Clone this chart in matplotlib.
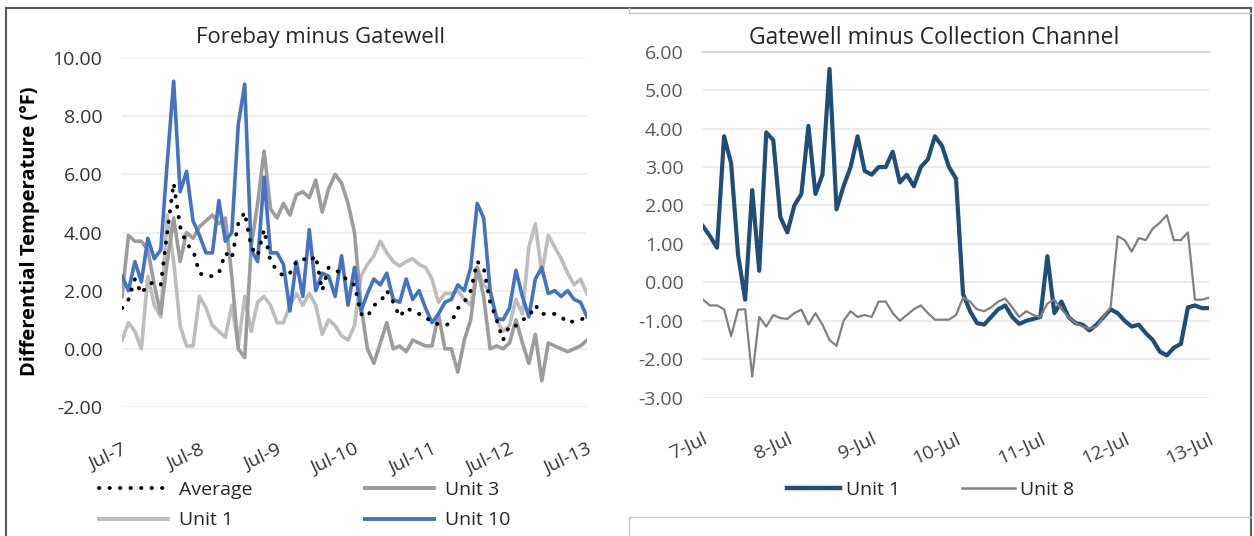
import numpy as np
import matplotlib
matplotlib.use("Agg")
import matplotlib.pyplot as plt
from matplotlib.lines import Line2D

plt.rcParams['font.family'] = ['Open Sans', 'DejaVu Sans']

# ---------------- data ----------------
hours = np.arange(0, 145, 2)  # hours since Jul-7 00:00 (2-hour readings)

left_ticks = ['Jul-7', 'Jul-8', 'Jul-9', 'Jul-10', 'Jul-11', 'Jul-12', 'Jul-13']
right_ticks = ['7-Jul', '8-Jul', '9-Jul', '10-Jul', '11-Jul', '12-Jul', '13-Jul']

fg_average = [1.4, 1.7, 2.4, 1.9, 2.2, 2.3, 2.2, 4.0, 5.7, 4.2, 3.6, 3.4, 2.6, 2.5, 2.5, 2.6,
              3.3, 3.1, 4.3, 4.7, 3.5, 3.2, 4.1, 3.0, 2.7, 2.5, 2.6, 3.0, 3.1, 3.0, 3.2, 2.0,
              2.8, 2.7, 2.6, 2.3, 2.2, 1.2, 1.1, 1.5, 1.6, 2.0, 1.6, 1.1, 1.4, 1.3, 1.2, 1.1,
              0.9, 0.85, 0.8, 0.9, 1.4, 1.6, 2.0, 3.0, 2.8, 1.6, 1.0, 0.3, 0.8, 0.8, 1.0, 1.1,
              1.5, 1.2, 1.2, 1.2, 1.1, 0.9, 0.95, 1.0, 1.1]
fg_unit10 = [2.5, 2.0, 3.0, 2.3, 3.8, 3.1, 3.4, 6.4, 9.2, 5.4, 6.1, 4.4, 3.9, 3.3, 3.3, 5.1,
             3.7, 4.0, 7.7, 9.1, 3.4, 3.0, 5.9, 3.3, 3.3, 2.9, 1.3, 3.0, 1.8, 4.1, 2.0, 2.6,
             2.5, 1.8, 3.2, 1.5, 2.8, 1.3, 1.9, 2.4, 2.2, 2.6, 1.7, 1.6, 2.4, 1.7, 2.0, 1.4,
             0.9, 1.2, 1.6, 1.7, 2.2, 2.0, 2.8, 5.0, 4.5, 2.0, 1.05, 1.0, 1.4, 2.7, 1.8, 1.1,
             2.4, 2.8, 1.9, 2.0, 1.8, 2.0, 1.7, 1.6, 1.1]
fg_unit3 = [1.8, 3.9, 3.7, 3.7, 3.4, 2.2, 1.2, 3.0, 4.5, 3.0, 4.0, 3.8, 4.2, 4.4, 4.6, 4.3,
            4.5, 2.5, 0.0, -0.3, 3.5, 5.0, 6.8, 4.8, 4.5, 5.0, 4.6, 5.3, 5.4, 5.2, 5.8, 4.7,
            5.5, 6.0, 5.7, 5.0, 4.0, 1.5, 0.0, -0.5, 0.2, 0.9, 0.0, 0.1, -0.1, 0.3, 0.2, 0.1,
            0.1, 1.2, 0.0, 0.0, -0.8, 0.3, 1.0, 2.8, 1.8, 0.0, 0.1, 0.0, 0.2, 1.0, 0.2, -0.5,
            0.5, -1.1, 0.2, 0.1, 0.0, -0.1, 0.0, 0.1, 0.3]
fg_unit1 = [0.3, 0.9, 0.6, 0.0, 2.5, 1.5, 1.1, 4.6, 3.0, 0.8, 0.1, 0.1, 1.8, 1.4, 0.8, 0.6,
            0.4, 1.5, 0.1, 1.8, 0.6, 1.6, 1.8, 1.5, 0.9, 0.9, 1.5, 1.9, 1.5, 1.9, 1.5, 0.5,
            1.0, 0.8, 0.45, 0.3, 0.8, 2.5, 2.9, 3.2, 3.7, 3.3, 3.0, 2.85, 3.0, 3.1, 2.9, 2.8,
            2.4, 1.6, 1.9, 1.9, 2.0, 1.7, 1.5, 2.8, 2.2, 2.0, 1.0, 0.6, 0.8, 1.7, 1.2, 3.5,
            4.3, 2.6, 3.9, 3.5, 3.1, 2.6, 2.2, 2.4, 1.9]

gc_unit1 = [1.46, 1.2, 0.9, 3.8, 3.1, 0.7, -0.45, 2.4, 0.3, 3.9, 3.7, 1.7, 1.3, 2.0, 2.3, 4.07,
            2.3, 2.8, 5.55, 1.9, 2.5, 3.0, 3.8, 2.9, 2.8, 3.0, 3.0, 3.4, 2.6, 2.8, 2.5, 3.0,
            3.2, 3.8, 3.55, 3.0, 2.7, -0.3, -0.75, -1.06, -1.1, -0.9, -0.7, -0.6, -0.9, -1.08,
            -1.0, -0.95, -0.9, 0.68, -0.8, -0.5, -0.9, -1.06, -1.1, -1.25, -1.1, -0.9, -0.7,
            -0.8, -1.0, -1.15, -1.1, -1.32, -1.5, -1.8, -1.9, -1.7, -1.6, -0.65, -0.6, -0.67,
            -0.67]
gc_unit8 = [-0.45, -0.6, -0.6, -0.7, -1.4, -0.71, -0.7, -2.45, -0.9, -1.15, -0.85, -0.93,
            -0.95, -0.8, -0.71, -1.1, -0.8, -1.1, -1.5, -1.65, -1.0, -0.75, -0.9, -0.85,
            -0.9, -0.5, -0.5, -0.8, -1.0, -0.85, -0.7, -0.6, -0.8, -0.97, -0.97, -0.97,
            -0.85, -0.4, -0.5, -0.7, -0.75, -0.65, -0.5, -0.42, -0.65, -0.9, -0.75, -0.85,
            -0.9, -0.55, -0.45, -0.7, -0.9, -1.06, -1.15, -1.2, -1.15, -0.89, -0.65, 1.2,
            1.1, 0.8, 1.15, 1.1, 1.4, 1.55, 1.75, 1.1, 1.1, 1.3, -0.45, -0.45, -0.4]

days = hours / 24.0

# ---------------- figure ----------------
W, H = 1254, 536
fig = plt.figure(figsize=(W / 100, H / 100), dpi=100)
fig.patch.set_facecolor('white')

def px_axes(x0, x1, ytop, ybot):
    return fig.add_axes([x0 / W, 1 - ybot / H, (x1 - x0) / W, (ybot - ytop) / H])

tick_fs = 14
dots = (0, (0.1, 2.6))

# ----- left panel -----
axL = px_axes(122, 587, 58, 407)
axL.plot(days, fg_unit1, color='#BDBDBD', lw=2.6, label='Unit 1', solid_joinstyle='round')
axL.plot(days, fg_unit3, color='#9C9C9C', lw=2.6, label='Unit 3', solid_joinstyle='round')
axL.plot(days, fg_unit10, color='#4472C4', lw=2.6, label='Unit 10', solid_joinstyle='round')
axL.plot(days, fg_average, color='black', lw=2.8, linestyle=dots,
         dash_capstyle='round', label='Average')
axL.set_xlim(0, 6)
axL.set_ylim(-2, 10)
axL.set_yticks(np.arange(-2, 10.01, 2))
axL.set_yticklabels([f'{v:.2f}' for v in np.arange(-2, 10.01, 2)])
axL.set_xticks(range(7))
axL.set_xticklabels(left_ticks, rotation=25, ha='right', rotation_mode='anchor')
axL.grid(axis='y', color='#EDEDED', lw=1.2)
axL.set_axisbelow(True)
for s in axL.spines.values():
    s.set_visible(False)
axL.tick_params(axis='y', length=0, pad=14, labelsize=tick_fs, labelcolor='#333333')
axL.tick_params(axis='x', length=0, pad=24, labelsize=tick_fs, labelcolor='#333333')

fig.text(320 / W, 1 - 38 / H, 'Forebay minus Gatewell', ha='center', va='center',
         fontsize=16, color='#262626')
fig.text(30 / W, 1 - 231 / H, 'Differential Temperature (°F)', rotation=90,
         ha='center', va='center', fontsize=14.5, fontweight='bold', color='black')

hL = [Line2D([], [], color='black', lw=2.8, linestyle=dots, dash_capstyle='round'),
      Line2D([], [], color='#BDBDBD', lw=2.8),
      Line2D([], [], color='#9C9C9C', lw=2.8),
      Line2D([], [], color='#4472C4', lw=2.8)]
fig.legend(hL, ['Average', 'Unit 1', 'Unit 3', 'Unit 10'], ncol=2, loc='center',
           bbox_to_anchor=(305 / W, 1 - 505 / H), frameon=False, fontsize=14,
           handlelength=3.5, handletextpad=0.6, columnspacing=5.8, labelspacing=0.65,
           borderpad=0, labelcolor='#262626')

# ----- right panel -----
axR = px_axes(703, 1209, 51.7, 397.7)
axR.plot(days, gc_unit1, color='#1F4E79', lw=3.0, label='Unit 1', solid_joinstyle='round')
axR.plot(days, gc_unit8, color='#808080', lw=1.6, label='Unit 8', solid_joinstyle='round')
axR.set_xlim(0, 6)
axR.set_ylim(-3, 6)
axR.set_yticks(np.arange(-3, 6.01, 1))
axR.set_yticklabels([f'{v:.2f}' for v in np.arange(-3, 6.01, 1)])
axR.set_xticks(range(7))
axR.set_xticklabels(right_ticks, rotation=25, ha='right', rotation_mode='anchor')
axR.grid(axis='y', color='#E8E8E8', lw=1.2)
axR.set_axisbelow(True)
for s in axR.spines.values():
    s.set_visible(False)
axR.spines['top'].set_visible(True)
axR.spines['top'].set_color('#D6D6D6')
axR.spines['top'].set_linewidth(1.5)
axR.tick_params(axis='y', length=0, pad=14, labelsize=tick_fs, labelcolor='#595959')
axR.tick_params(axis='x', length=0, pad=23, labelsize=tick_fs, labelcolor='#404040')

fig.text(934 / W, 1 - 38 / H, 'Gatewell minus Collection Channel', ha='center',
         va='center', fontsize=16.5, color='#262626')

hR = [Line2D([], [], color='#1F4E79', lw=3.2), Line2D([], [], color='#808080', lw=1.8)]
fig.legend(hR, ['Unit 1', 'Unit 8'], ncol=2, loc='center',
           bbox_to_anchor=(931 / W, 1 - 490 / H), frameon=False, fontsize=14,
           handlelength=2.7, handletextpad=0.3, columnspacing=3.2, borderpad=0,
           labelcolor='#262626')

# ----- frames -----
def fline(xs, ys, color, lw):
    fig.add_artist(Line2D([x / W for x in xs], [1 - y / H for y in ys],
                          transform=fig.transFigure, color=color, lw=lw))

fline([6, 1251], [8, 8], '#5A5A5A', 1.5)
fline([6, 6], [8, 536], '#5A5A5A', 1.5)
fline([1251, 1251], [8, 536], '#5A5A5A', 1.5)
fline([629, 1251], [13, 13], '#C8C8C8', 1.0)
fline([629, 629], [8, 13], '#C8C8C8', 1.0)
fline([629, 1251], [517, 517], '#C8C8C8', 1.0)
fline([629, 629], [517, 536], '#C8C8C8', 1.0)

fig.savefig('out.png', dpi=100, facecolor='white')
